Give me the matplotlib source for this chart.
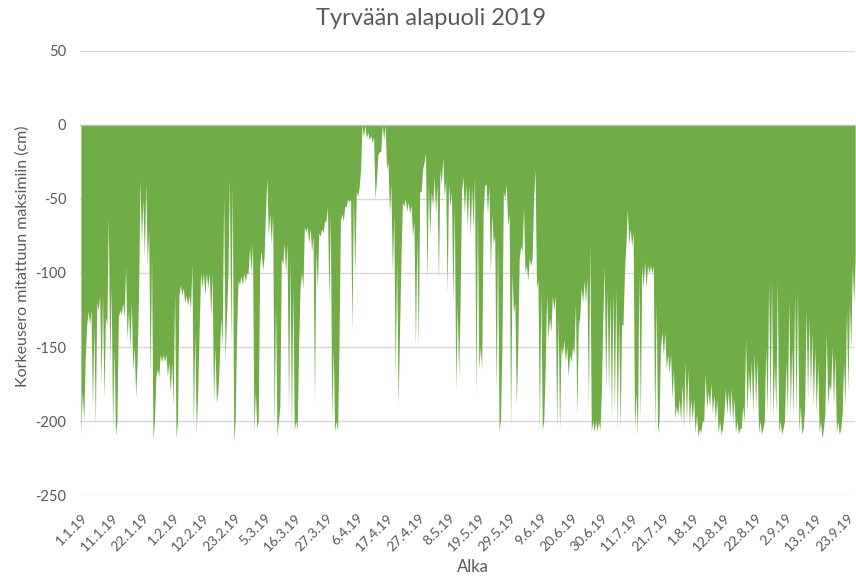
#!/usr/bin/env python3
"""Tyrvään alapuoli 2019: water level difference to the measured maximum."""

import matplotlib
matplotlib.use("Agg")
import matplotlib.pyplot as plt
import numpy as np

# Per day from 1.1.2019: lowest and highest reading of the day (cm)
DAILY_LOW = [
    -209, -200, -135, -135, -190, -203, -125, -175, -185, -135,
    -160, -205, -210, -130, -128, -130, -145, -150, -165, -184,
    -115, -80, -90, -95, -170, -213, -170, -170, -160, -160,
    -170, -181, -190, -212, -115, -115, -120, -122, -125, -205,
    -208, -140, -110, -115, -110, -130, -188, -188, -160, -150,
    -160, -100, -150, -214, -140, -108, -108, -106, -100, -100,
    -207, -205, -95, -98, -60, -75, -80, -205, -210, -190,
    -94, -100, -195, -206, -206, -206, -110, -110, -72, -80,
    -85, -188, -110, -75, -73, -65, -120, -200, -207, -207,
    -65, -65, -55, -52, -139, -100, -48, -30, -8, -9,
    -10, -12, -50, -20, -18, -10, -30, -60, -100, -170,
    -189, -90, -55, -58, -60, -75, -150, -150, -45, -25,
    -105, -75, -55, -60, -105, -40, -48, -114, -55, -120,
    -180, -170, -45, -60, -70, -75, -70, -184, -165, -165,
    -41, -60, -100, -80, -180, -206, -150, -50, -68, -206,
    -127, -190, -90, -85, -100, -105, -95, -50, -110, -206,
    -206, -165, -145, -140, -125, -206, -206, -155, -160, -170,
    -160, -155, -197, -130, -120, -120, -190, -207, -207, -207,
    -206, -130, -180, -180, -200, -195, -206, -206, -135, -80,
    -80, -82, -206, -210, -200, -110, -110, -100, -100, -206,
    -208, -150, -155, -165, -168, -185, -198, -196, -200, -205,
    -200, -203, -200, -208, -211, -208, -200, -192, -190, -195,
    -200, -208, -209, -195, -195, -198, -200, -208, -209, -205,
    -200, -195, -185, -195, -190, -208, -209, -200, -195, -195,
    -198, -195, -208, -209, -200, -195, -195, -198, -195, -208,
    -209, -190, -185, -180, -190, -195, -208, -212, -195, -190,
    -180, -190, -208, -209, -195, -190, -180, -150, -120,
]
DAILY_HIGH = [
    -180, -157, -126, -125, -135, -120, -115, -115, -130, -62,
    -110, -150, -200, -125, -120, -96, -125, -120, -150, -160,
    -37, -50, -39, -70, -90, -200, -165, -155, -155, -155,
    -160, -160, -113, -200, -108, -110, -115, -115, -94, -140,
    -180, -100, -100, -100, -100, -100, -150, -180, -130, -48,
    -130, -36, -40, -200, -105, -102, -100, -100, -82, -80,
    -180, -200, -85, -90, -36, -60, -60, -120, -200, -90,
    -80, -80, -90, -110, -200, -150, -100, -69, -69, -70,
    -75, -85, -73, -70, -65, -55, -60, -150, -200, -150,
    -60, -55, -50, -50, -48, -45, -42, 0, 0, -5,
    -7, -8, -37, -18, 0, 0, -25, -40, -60, -90,
    -140, -52, -50, -52, -54, -65, -75, -45, -30, -19,
    -40, -45, -35, -40, -30, -22, -38, -40, -45, -55,
    -120, -120, -35, -40, -40, -42, -35, -60, -150, -60,
    -40, -41, -60, -75, -80, -200, -45, -40, -60, -100,
    -120, -150, -82, -55, -95, -90, -90, -30, -105, -110,
    -200, -115, -130, -115, -115, -130, -150, -145, -150, -155,
    -150, -120, -135, -110, -105, -103, -80, -200, -200, -200,
    -180, -96, -112, -115, -112, -110, -130, -135, -100, -57,
    -70, -72, -180, -100, -95, -92, -95, -95, -95, -120,
    -200, -140, -140, -155, -155, -165, -190, -185, -175, -160,
    -165, -185, -185, -195, -205, -200, -168, -180, -175, -182,
    -185, -200, -205, -178, -180, -178, -185, -200, -205, -190,
    -144, -165, -160, -154, -158, -200, -205, -150, -105, -105,
    -160, -105, -200, -205, -160, -118, -150, -114, -112, -190,
    -205, -125, -130, -140, -150, -160, -200, -205, -140, -175,
    -150, -155, -200, -205, -160, -125, -120, -95, -91,
]

TICK_LABELS = [
    "1.1.19", "11.1.19", "22.1.19", "1.2.19", "12.2.19", "23.2.19",
    "5.3.19", "16.3.19", "27.3.19", "6.4.19", "17.4.19", "27.4.19",
    "8.5.19", "19.5.19", "29.5.19", "9.6.19", "20.6.19", "30.6.19",
    "11.7.19", "21.7.19", "1.8.19", "12.8.19", "22.8.19", "2.9.19",
    "13.9.19", "23.9.19",
]
LABEL_STEP_DAYS = 10.625   # Excel shows every 255th hourly category
MARK_STEP_DAYS = 7

GREEN = "#70AD47"
GREY = "#595959"

plt.rcParams["font.family"] = ["Lato", "DejaVu Sans"]
plt.rcParams["axes.unicode_minus"] = False

# low reading first, high reading half a day later
n_days = len(DAILY_LOW)
t = np.empty(2 * n_days)
t[0::2] = np.arange(n_days)
t[1::2] = np.arange(n_days) + 0.5
level = np.empty(2 * n_days)
level[0::2] = DAILY_LOW
level[1::2] = DAILY_HIGH

fig = plt.figure(figsize=(8.56, 5.76), dpi=100)
ax = fig.add_axes([0.0935, 0.1406, 0.9055, 0.7709])

ax.fill_between(t, level, 0, color=GREEN, linewidth=0, zorder=2)

ax.set_ylim(-250, 50)
ax.set_yticks(np.arange(-250, 51, 50))
ax.set_xlim(-0.3, t[-1])
ax.grid(axis="y", color="#D9D9D9", linewidth=1, zorder=0)
ax.set_axisbelow(True)

for side in ("left", "right", "bottom"):
    ax.spines[side].set_visible(False)
ax.spines["top"].set_position(("data", 0))
ax.spines["top"].set_color("#BFBFBF")
ax.spines["top"].set_zorder(3)

label_pos = np.arange(len(TICK_LABELS)) * LABEL_STEP_DAYS
ax.set_xticks(label_pos)
ax.set_xticklabels(TICK_LABELS, rotation=45, ha="right", va="top",
                   rotation_mode="anchor", fontsize=10, color=GREY)
ax.set_xticks(np.arange(0, n_days, MARK_STEP_DAYS), minor=True)
ax.tick_params(axis="x", which="major", length=0, pad=12,
               bottom=True, top=False)
ax.tick_params(axis="x", which="minor", direction="in", length=4,
               color="#BFBFBF", top=True, bottom=False,
               labelbottom=False, labeltop=False)
ax.tick_params(axis="y", length=0, labelsize=10.5, labelcolor=GREY, pad=10)

fig.text(0.503, 0.968, "Tyrvään alapuoli 2019", fontsize=17, color=GREY,
         ha="center", va="center")
ax.set_ylabel("Korkeusero mitattuun maksimiin (cm)", fontsize=11.5, color=GREY)
ax.yaxis.set_label_coords(-0.065, 0.538)
ax.set_xlabel("Alka", fontsize=12, color=GREY)
ax.xaxis.set_label_coords(0.507, -0.145)

fig.savefig("out.png", dpi=100)
